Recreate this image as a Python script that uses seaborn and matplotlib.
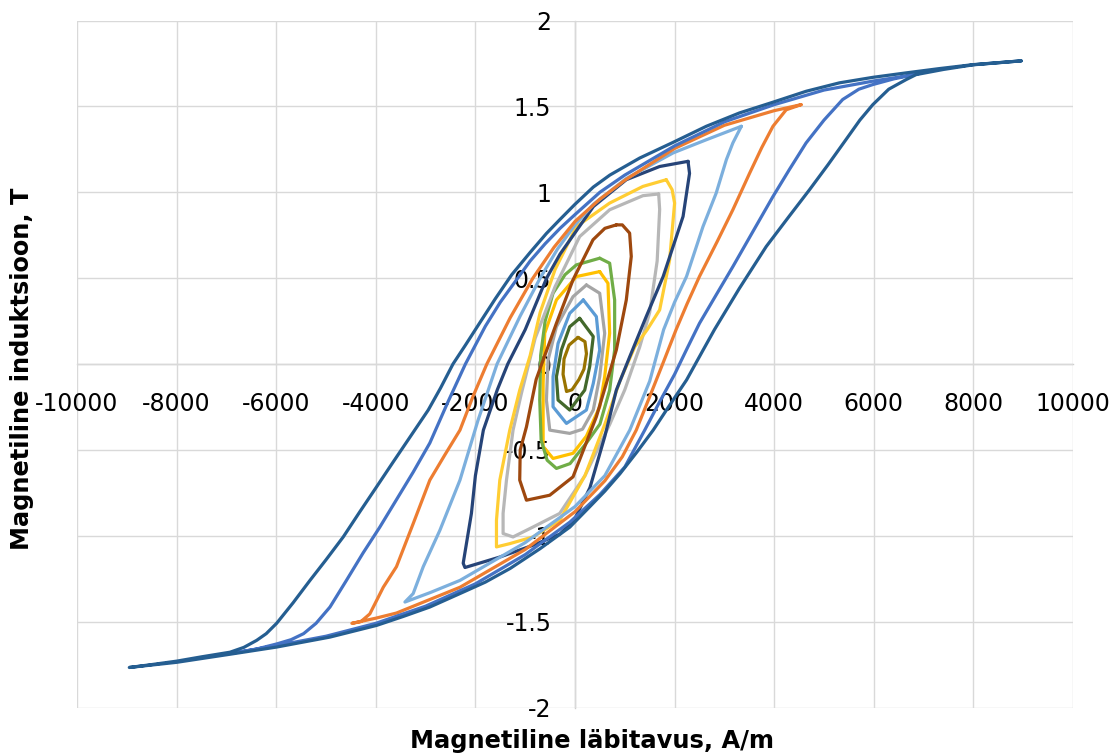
import matplotlib
matplotlib.use("Agg")
import matplotlib.pyplot as plt
import seaborn as sns
import pandas as pd

# ---- data: hysteresis loops (H in A/m, B in T), closed paths ----
h1 = [8960, 7990, 7316, 6648, 5980, 5310, 4642, 3972, 3304, 2636, 1966, 1298, 700, 367, 0, -307, -574, -900, -1270, -1600, -1912, -2200, -2450, -2700, -2947, -3310, -3650, -3984, -4320, -4654, -5000, -5322, -5660, -5992, -6200, -6392, -6650, -6927, -7500, -7997, -8500, -8950,
      -8000, -6930, -5990, -4920, -3984, -3450, -2915, -2313, -1800, -1300, -700, -105, 300, 600, 900, 1250, 1570, 1900, 2240, 2570, 2800, 3300, 3840, 4300, 4710, 5080, 5440, 5720, 5980, 6300, 6650, 6850, 7400, 8000, 8960]
b1 = [1.765, 1.743, 1.72, 1.695, 1.669, 1.637, 1.588, 1.524, 1.462, 1.384, 1.29, 1.199, 1.10, 1.03, 0.93, 0.84, 0.76, 0.65, 0.52, 0.38, 0.24, 0.11, 0.0, -0.14, -0.268, -0.424, -0.57, -0.715, -0.86, -1.007, -1.14, -1.26, -1.39, -1.51, -1.57, -1.609, -1.65, -1.678, -1.705, -1.73, -1.75, -1.767,
      -1.737, -1.69, -1.648, -1.59, -1.522, -1.47, -1.415, -1.337, -1.27, -1.19, -1.075, -0.95, -0.83, -0.74, -0.64, -0.51, -0.385, -0.24, -0.093, 0.08, 0.2, 0.44, 0.684, 0.86, 1.015, 1.16, 1.306, 1.42, 1.51, 1.6, 1.656, 1.685, 1.715, 1.742, 1.765]

h2 = [6900, 6500, 6000, 5000, 4000, 3000, 2000, 1000, 500, 0, -300, -600, -900, -1200, -1500, -1800, -2200, -2550, -2915, -3250, -3585, -3920, -4255, -4590, -4920, -5200, -5450, -5700, -5990, -6400, -6900,
      -6000, -5000, -4000, -3000, -2000, -1000, -100, 500, 1000, 1400, 1700, 2000, 2250, 2500, 2830, 3170, 3570, 3975, 4300, 4640, 5000, 5375, 5700, 5980, 6400, 6900]
b2 = [1.69, 1.67, 1.648, 1.595, 1.51, 1.41, 1.27, 1.10, 1.0, 0.87, 0.79, 0.70, 0.60, 0.48, 0.36, 0.22, 0.0, -0.22, -0.46, -0.63, -0.79, -0.95, -1.10, -1.26, -1.415, -1.51, -1.57, -1.605, -1.63, -1.66, -1.685,
      -1.64, -1.585, -1.51, -1.41, -1.28, -1.11, -0.92, -0.76, -0.60, -0.385, -0.22, -0.06, 0.09, 0.237, 0.40, 0.567, 0.77, 0.975, 1.13, 1.287, 1.42, 1.54, 1.60, 1.627, 1.66, 1.69]

h3 = [4540, 4000, 3000, 2000, 1000, 500, 0, -420, -845, -1300, -1770, -2050, -2310, -2615, -2915, -3250, -3585, -3850, -4120, -4300, -4480,
      -4000, -3585, -2310, -1000, 0, 600, 950, 1230, 1500, 1760, 2030, 2250, 2500, 2850, 3170, 3505, 3750, 3975, 4240, 4540]
b3 = [1.51, 1.475, 1.39, 1.255, 1.07, 0.96, 0.83, 0.68, 0.5, 0.27, 0.0, -0.19, -0.385, -0.53, -0.676, -0.93, -1.18, -1.30, -1.455, -1.50, -1.51,
      -1.48, -1.45, -1.30, -1.08, -0.86, -0.68, -0.54, -0.385, -0.19, 0.0, 0.2, 0.35, 0.51, 0.71, 0.898, 1.11, 1.26, 1.384, 1.48, 1.51]

h4 = [3340, 2640, 1970, 1030, 370, 0, -350, -700, -1100, -1565, -1950, -2310, -2713, -3047, -3250, -3415,
      -2900, -2310, -1000, 0, 600, 1100, 1500, 1780, 2000, 2240, 2570, 2835, 3040, 3170, 3340]
b4 = [1.384, 1.306, 1.229, 1.08, 0.93, 0.81, 0.67, 0.50, 0.28, 0.0, -0.33, -0.676, -0.968, -1.18, -1.337, -1.386,
      -1.33, -1.26, -1.04, -0.83, -0.65, -0.385, -0.1, 0.2, 0.36, 0.51, 0.80, 0.995, 1.19, 1.287, 1.384]

h5 = [2270, 1700, 1030, 370, -300, -570, -1000, -1350, -1560, -1840, -2000, -2080, -2245, -2210,
      -1510, -840, -300, 0, 300, 600, 830, 1100, 1430, 1770, 2170, 2300, 2270]
b5 = [1.18, 1.15, 1.073, 0.917, 0.64, 0.5, 0.2, 0.0, -0.15, -0.385, -0.65, -0.87, -1.16, -1.185,
      -1.124, -1.055, -0.99, -0.90, -0.72, -0.42, -0.152, 0.043, 0.276, 0.509, 0.859, 1.11, 1.18]

h6 = [1833, 1364, 696, 27, -400, -700, -900, -1110, -1310, -1510, -1577, -1577,
      -1310, -842, -307, 200, 600, 900, 1200, 1450, 1700, 1900, 2000, 1950, 1833]
b6 = [1.073, 1.034, 0.937, 0.80, 0.55, 0.3, 0.05, -0.152, -0.385, -0.676, -0.91, -1.065,
      -1.046, -1.007, -0.91, -0.65, -0.35, -0.1, 0.1, 0.2, 0.315, 0.606, 0.937, 1.015, 1.073]

h7 = [1680, 1364, 696, 94, -400, -800, -1076, -1244, -1376, -1444, -1444,
      -1244, -842, -307, 200, 700, 1000, 1300, 1500, 1650, 1700, 1680]
b7 = [0.99, 0.98, 0.898, 0.742, 0.45, 0.15, -0.171, -0.385, -0.676, -0.87, -0.987,
      -1.007, -0.949, -0.87, -0.65, -0.35, -0.15, 0.1, 0.3, 0.6, 0.9, 0.99]

h8 = [830, 600, 361, -40, -373, -780, -975, -1100, -1110, -975, -507, -40, 429, 629, 830, 1030, 1130, 1097, 950, 830]
b8 = [0.81, 0.79, 0.723, 0.49, 0.237, -0.09, -0.366, -0.5, -0.676, -0.793, -0.764, -0.657, -0.307, -0.113, 0.082, 0.373, 0.626, 0.762, 0.81, 0.81]

h9 = [496, 696, 796, 796, 696, 500, 229, -100, -373, -560, -680, -708, -690, -600, -441, -200, 27, 496]
b9 = [0.616, 0.587, 0.373, 0.082, -0.152, -0.35, -0.46, -0.58, -0.608, -0.56, -0.443, -0.21, 0.05, 0.25, 0.412, 0.52, 0.577, 0.616]

h10 = [496, 662, 696, 596, 496, 229, -40, -441, -640, -640, -608, -373, 27, 496]
b10 = [0.538, 0.47, 0.179, -0.074, -0.249, -0.42, -0.52, -0.55, -0.48, -0.113, 0.179, 0.373, 0.509, 0.538]

h11 = [229, 496, 596, 496, 367, 150, -106, -507, -574, -541, -373, -40, 229]
b11 = [0.46, 0.412, 0.179, -0.074, -0.268, -0.38, -0.404, -0.385, -0.21, 0.023, 0.217, 0.392, 0.46]

h12 = [167, 429, 496, 367, 229, -172, -441, -441, -340, -106, 167]
b12 = [0.373, 0.276, 0.082, -0.113, -0.268, -0.346, -0.249, -0.074, 0.12, 0.295, 0.373]

h13 = [94, 367, 295, 195, -106, -340, -373, -273, -106, 94]
b13 = [0.266, 0.16, -0.015, -0.152, -0.268, -0.21, -0.074, 0.082, 0.217, 0.266]

h14 = [60, 200, 230, 180, 80, -60, -170, -240, -220, -120, 60]
b14 = [0.155, 0.13, 0.06, -0.03, -0.09, -0.15, -0.16, -0.06, 0.03, 0.11, 0.155]

loop_colors = ["#255E91", "#4472C4", "#ED7D31", "#7CAFDD", "#264478", "#FFCD33", "#B7B7B7",
               "#9E480E", "#70AD47", "#FFC000", "#A5A5A5", "#5B9BD5", "#43682B", "#997300"]

x_ticks = [-10000, -8000, -6000, -4000, -2000, 0, 2000, 4000, 6000, 8000, 10000]
y_ticks = [-2, -1.5, -1, -0.5, 0, 0.5, 1, 1.5, 2]
y_tick_labels = ["-2", "-1.5", "-1", "-0.5", "0", "0.5", "1", "1.5", "2"]
x_label = "Magnetiline läbitavus, A/m"
y_label = "Magnetiline induktsioon, T"

# ---- build long table ----
hs = [h1, h2, h3, h4, h5, h6, h7, h8, h9, h10, h11, h12, h13, h14]
bs = [b1, b2, b3, b4, b5, b6, b7, b8, b9, b10, b11, b12, b13, b14]
rows = []
for i, (hh, bb) in enumerate(zip(hs, bs)):
    for k, (h, b) in enumerate(zip(hh, bb)):
        rows.append({"loop": f"L{i+1}", "idx": k, "H": h, "B": b})
df = pd.DataFrame(rows)
names = [f"L{i+1}" for i in range(len(hs))]
palette = dict(zip(names, loop_colors))

sns.set_style("white")
plt.rcParams["font.family"] = ["DejaVu Sans"]
plt.rcParams["axes.unicode_minus"] = False
plt.rcParams["text.color"] = "black"

fig = plt.figure(figsize=(11.18, 7.56), dpi=100)
ax = fig.add_axes([77 / 1118, 1 - 707.5 / 756, (1073 - 77) / 1118, (707.5 - 20.5) / 756])

sns.lineplot(data=df, x="H", y="B", hue="loop", hue_order=names[::-1], palette=palette,
             sort=False, estimator=None, legend=False, linewidth=2.3, ax=ax)
for ln in ax.lines:
    ln.set_solid_joinstyle("round")
    ln.set_solid_capstyle("round")

ax.set_xlim(-10000, 10000)
ax.set_ylim(-2, 2)
ax.set_xticks(x_ticks)
ax.set_xticklabels([str(t) for t in x_ticks])
ax.set_yticks(y_ticks)
ax.set_yticklabels(y_tick_labels)
ax.grid(True, color="#D9D9D9", linewidth=1.0)
ax.set_axisbelow(True)

for s in ["top", "right"]:
    ax.spines[s].set_visible(False)
ax.spines["left"].set_position(("data", 0))
ax.spines["bottom"].set_position(("data", 0))
for s in ["left", "bottom"]:
    ax.spines[s].set_color("#CFCFCF")
    ax.spines[s].set_linewidth(1.0)
    ax.spines[s].set_zorder(0.5)

ax.tick_params(axis="x", length=0, pad=20, labelsize=17, labelcolor="black")
ax.tick_params(axis="y", length=0, pad=17, labelsize=17, labelcolor="black")
ax.set_xlabel("")
ax.set_ylabel("")

fig.text(592 / 1118, 1 - 741 / 756, x_label, ha="center", va="center", fontsize=17.4,
         fontweight="bold", color="black")
fig.text(22 / 1118, 1 - 369 / 756, y_label, ha="center", va="center", rotation=90,
         fontsize=17.3, fontweight="bold", color="black")

fig.savefig("out.png", dpi=100)
